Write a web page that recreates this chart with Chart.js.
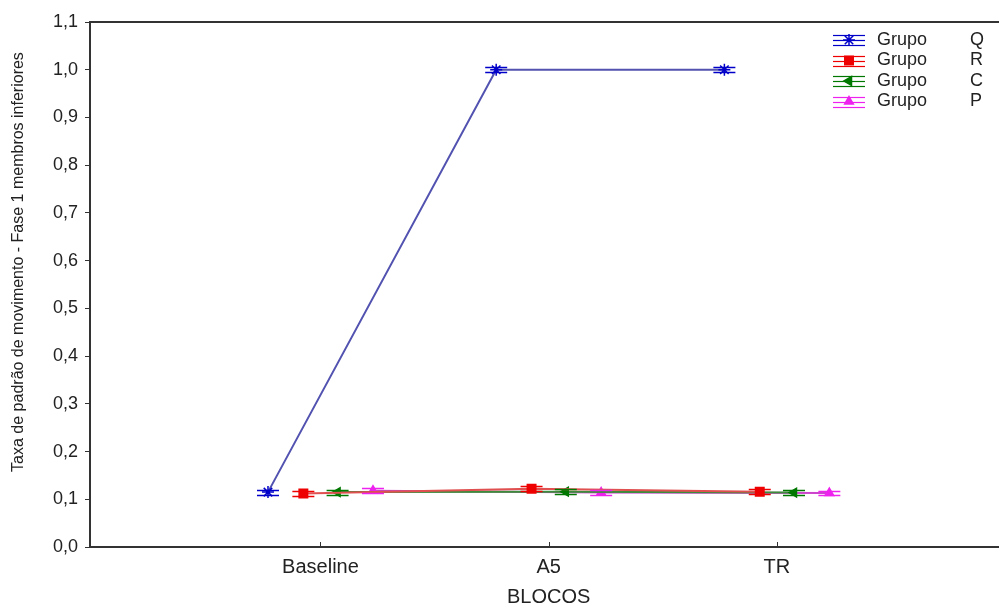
<!DOCTYPE html>
<html>
<head>
<meta charset="utf-8">
<script src="https://cdn.jsdelivr.net/npm/chart.js@4.4.0/dist/chart.umd.min.js"></script>
<style>
  html, body { margin: 0; padding: 0; background: #fff; overflow: hidden; }
  #wrap { width: 999px; height: 606px; overflow: hidden; }
</style>
</head>
<body>
<div id="wrap"><canvas id="chart" width="1008" height="606"></canvas></div>
<script>
const categories = ['Baseline', 'A5', 'TR'];
const groups = ['Q', 'R', 'C', 'P'];
const valuesQ = [0.115, 1.0, 1.0];
const valuesR = [0.112, 0.122, 0.116];
const valuesC = [0.115, 0.116, 0.114];
const valuesP = [0.118, 0.114, 0.113];
const errors = [0.005, 0.005, 0.005];
const yTicks = [0, 0.1, 0.2, 0.3, 0.4, 0.5, 0.6, 0.7, 0.8, 0.9, 1.0, 1.1];

const seriesValues = [valuesQ, valuesR, valuesC, valuesP];
const dodge = [-0.23, -0.075, 0.075, 0.23];
const styles = [
    { line: '#5252b0', mark: '#0000c8', point: 'star', radius: 6, rot: 0 },
    { line: '#e05050', mark: '#ee0000', point: 'rect', radius: 6, rot: 0 },
    { line: '#3c8c3c', mark: '#007800', point: 'triangle', radius: 5, rot: 270 },
    { line: '#cc44cc', mark: '#ee22ee', point: 'triangle', radius: 5, rot: 0 }
];

const datasets = groups.map(function (g, i) {
    return {
        label: 'Grupo ' + g,
        data: seriesValues[i].map((v, k) => ({ x: k + 1 + dodge[i], y: v })),
        showLine: true,
        borderColor: styles[i].line,
        borderWidth: 2,
        pointStyle: styles[i].point,
        pointRotation: styles[i].rot,
        pointRadius: styles[i].radius,
        pointBackgroundColor: styles[i].mark,
        pointBorderColor: styles[i].mark,
        pointBorderWidth: 1.5
    };
});

const frameAndExtras = {
    id: 'frameAndExtras',
    afterDatasetsDraw(chart) {
        const ctx = chart.ctx;
        const area = chart.chartArea;
        const x = chart.scales.x, y = chart.scales.y;
        ctx.save();
        // error caps
        chart.data.datasets.forEach(function (ds, i) {
            ctx.strokeStyle = styles[i].mark;
            ctx.lineWidth = 1.5;
            ds.data.forEach(function (p, k) {
                const px = x.getPixelForValue(p.x);
                [p.y - errors[k], p.y + errors[k]].forEach(function (v) {
                    const py = Math.round(y.getPixelForValue(v)) + 0.5;
                    ctx.beginPath();
                    ctx.moveTo(px - 11, py);
                    ctx.lineTo(px + 11, py);
                    ctx.stroke();
                });
            });
        });
        // top frame line
        ctx.strokeStyle = '#333';
        ctx.lineWidth = 2;
        ctx.beginPath();
        ctx.moveTo(area.left, area.top);
        ctx.lineTo(area.right, area.top);
        ctx.stroke();
        // x ticks pointing inward
        ctx.lineWidth = 1;
        categories.forEach(function (c, k) {
            const px = Math.round(x.getPixelForValue(k + 1)) + 0.5;
            ctx.beginPath();
            ctx.moveTo(px, area.bottom);
            ctx.lineTo(px, area.bottom - 5);
            ctx.stroke();
        });
        // axis titles
        ctx.fillStyle = '#222';
        ctx.font = '20px "Liberation Sans", Arial, sans-serif';
        ctx.textAlign = 'center';
        ctx.textBaseline = 'middle';
        ctx.fillText('BLOCOS', x.getPixelForValue(2), 597);
        ctx.save();
        ctx.translate(19, 262);
        ctx.rotate(-Math.PI / 2);
        ctx.font = '16px "Liberation Sans", Arial, sans-serif';
        ctx.fillText('Taxa de padrão de movimento - Fase 1 membros inferiores', 0, 0);
        ctx.restore();
        // legend
        ctx.font = '18px "Liberation Sans", Arial, sans-serif';
        ctx.textAlign = 'left';
        groups.forEach(function (g, i) {
            const ly = 40 + i * 20.5;
            ctx.strokeStyle = styles[i].mark;
            ctx.lineWidth = 1.2;
            [ly - 5, ly, ly + 5].forEach(function (yy) {
                ctx.beginPath();
                ctx.moveTo(833, Math.round(yy) + 0.5);
                ctx.lineTo(865, Math.round(yy) + 0.5);
                ctx.stroke();
            });
            ctx.fillStyle = styles[i].mark;
            ctx.lineWidth = 1.5;
            Chart.helpers.drawPoint(ctx, {
                pointStyle: styles[i].point,
                radius: styles[i].radius,
                rotation: styles[i].rot,
                borderWidth: 1.5
            }, 849, ly);
            ctx.fillStyle = '#222';
            ctx.fillText('Grupo', 877, ly);
            ctx.fillText(g, 970, ly);
        });
        ctx.restore();
    }
};

new Chart(document.getElementById('chart'), {
    type: 'scatter',
    data: { datasets: datasets },
    options: {
        responsive: false,
        animation: false,
        layout: { padding: { top: 22, right: 0, left: 0, bottom: 0 } },
        plugins: {
            legend: { display: false },
            tooltip: { enabled: false }
        },
        scales: {
            x: {
                type: 'linear',
                min: -0.01,
                max: 3.98,
                afterFit: function (s) { s.height = 59; },
                afterBuildTicks: function (s) {
                    s.ticks = categories.map((c, k) => ({ value: k + 1 }));
                },
                ticks: {
                    callback: function (v) { return categories[v - 1]; },
                    color: '#222',
                    font: { family: '"Liberation Sans", Arial, sans-serif', size: 20 },
                    padding: 8,
                    maxRotation: 0
                },
                grid: { display: false, drawTicks: false },
                border: { display: true, color: '#333', width: 2 }
            },
            y: {
                min: 0,
                max: 1.1,
                afterFit: function (s) { s.width = 90; },
                afterBuildTicks: function (s) {
                    s.ticks = yTicks.map(v => ({ value: v }));
                },
                ticks: {
                    callback: function (v) { return v.toFixed(1).replace('.', ','); },
                    color: '#222',
                    font: { family: '"Liberation Sans", Arial, sans-serif', size: 18 },
                    padding: 7
                },
                grid: { drawOnChartArea: false, drawTicks: true, tickLength: 5, color: '#333' },
                border: { display: true, color: '#333', width: 2 }
            }
        }
    },
    plugins: [frameAndExtras]
});
</script>
</body>
</html>
